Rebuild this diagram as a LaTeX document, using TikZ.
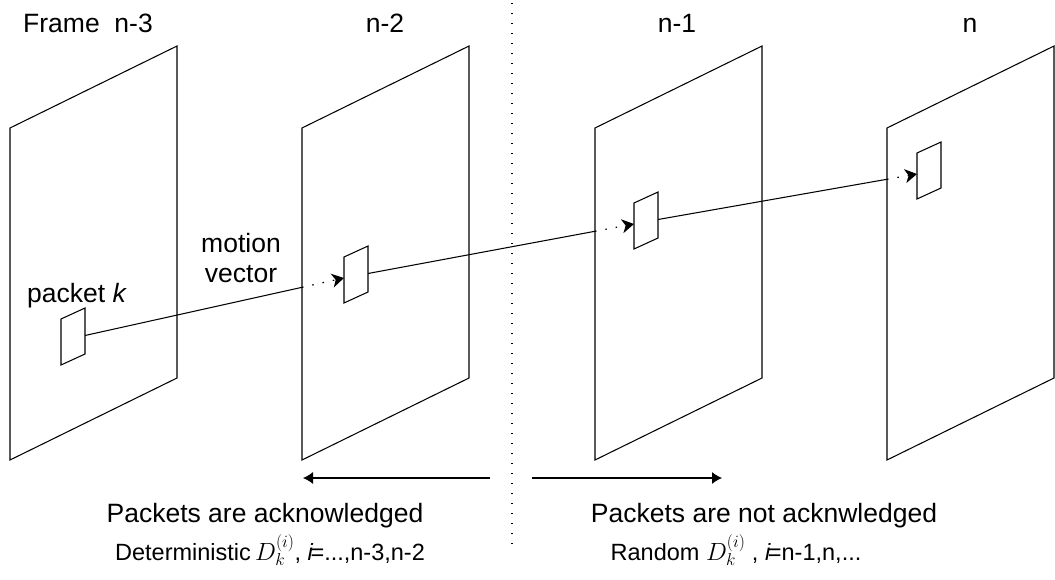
\documentclass[tikz,border=0pt]{standalone}
\usepackage{fontspec}
\setmainfont{Liberation Sans}
\usetikzlibrary{arrows.meta,calc}

\begin{document}
\begin{tikzpicture}[x=1pt,y=-1pt,
  every node/.style={inner sep=0pt, font=\fontsize{26.5}{31}\selectfont},
  small/.style={font=\fontsize{23.5}{28}\selectfont},
  plane/.style={draw, line width=1.05pt, line join=miter},
  pkt/.style={draw, line width=1.05pt},
  mv/.style={line width=1.05pt},
  mvhidden/.style={line width=1.2pt, dash pattern=on 1.5pt off 9pt,
    -{Stealth[length=12pt,width=14pt,inset=3.5pt]}},
  sidearrow/.style={line width=1.05pt, -{Latex[length=10pt,width=12pt]}},
  divider/.style={line width=1.2pt, dash pattern=on 1.3pt off 8.7pt}]

\useasboundingbox (0,0) rectangle (1055,579);

% video frames drawn as slanted planes
\foreach \i/\L in {1/10, 2/302, 3/595, 4/887}{
  \coordinate (f\i a) at (\L,128);
  \coordinate (f\i b) at (\L,460);
  \draw[plane] (f\i a) -- ++(167,-82) -- ++(0,332) -- (f\i b) -- cycle;
}

% one packet inside each frame
\foreach \i/\x/\y in {1/61/319, 2/344/257, 3/634/203, 4/917/153}{
  \coordinate (p\i) at (\x,\y);
  \draw[pkt] (p\i) -- ++(24,-11) -- ++(0,46) -- ++(-24,11) -- cycle;
  \coordinate (p\i l) at ($(p\i)+(0,21)$);
  \coordinate (p\i r) at ($(p\i)+(24,16.5)$);
}

% motion vectors: solid in front, dotted behind the next frame
\foreach \a/\b in {1/2, 2/3, 3/4}{
  \coordinate (x\b) at (intersection of p\a r--p\b l and f\b a--f\b b);
  \draw[mv] (p\a r) -- (x\b);
  \draw[mvhidden] (x\b) -- (p\b l);
}

% divider between acknowledged and unacknowledged packets
\coordinate (s0) at (512,3);
\coordinate (s1) at (512,550);
\draw[divider] (s0) -- (s1);

% direction arrows
\coordinate (al0) at (490,478);
\coordinate (al1) at (303,478);
\coordinate (ar0) at (532,478);
\coordinate (ar1) at (722,478);
\draw[sidearrow] (al0) -- (al1);
\draw[sidearrow] (ar0) -- (ar1);

% frame labels
\node[anchor=base west] (t1) at (23,32) {Frame\ \ n-3};
\node[anchor=base] (t2) at (385,32) {n-2};
\node[anchor=base] (t3) at (677,32) {n-1};
\node[anchor=base] (t4) at (970,32) {n};

% annotations
\node[anchor=base] (mo) at (241,252) {motion};
\node[anchor=base] (ve) at (241,282) {vector};
\node[anchor=base west] (pk) at (27,302) {packet \textit{k}};

\node[anchor=base] (ack) at (265,522) {Packets are acknowledged};
\node[anchor=base, small] (det) at (270,560) {Deterministic$\,D_k^{(i)}$, \textit{i}\kern-0.12em=...,n-3,n-2};
\node[anchor=base] (nack) at (764,522) {Packets are not acknwledged};
\node[anchor=base, small] (rnd) at (736,560) {Random $D_k^{(i)}$ , \textit{i}\kern-0.12em=n-1,n,...};
\end{tikzpicture}
\end{document}
